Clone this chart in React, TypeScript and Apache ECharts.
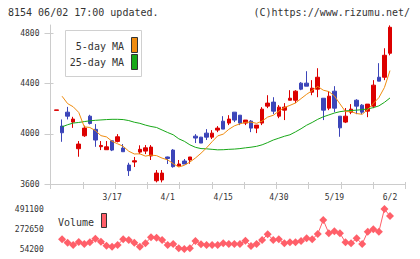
import React, { useEffect, useRef } from "react";
import * as echarts from "echarts";

const dates = [
  "3/3", "3/4", "3/5", "3/6", "3/7", "3/10", "3/11", "3/12", "3/13", "3/14",
  "3/17", "3/18", "3/19", "3/21", "3/24", "3/25", "3/26", "3/27", "3/28", "3/31",
  "4/1", "4/2", "4/3", "4/4", "4/7", "4/8", "4/9", "4/10", "4/11", "4/14",
  "4/15", "4/16", "4/17", "4/18", "4/21", "4/22", "4/23", "4/24", "4/25", "4/28",
  "4/30", "5/1", "5/2", "5/7", "5/8", "5/9", "5/12", "5/13", "5/14", "5/15",
  "5/19", "5/20", "5/21", "5/22", "5/23", "5/26", "5/27", "5/28", "5/29", "5/30",
  "6/2",
];

const opens = [
  4186, 4061, 4172, 4093, 3881, 3984, 4140, 4035, 3897, 3873,
  3944, 3939, 3886, 3751, 3775, 3854, 3862, 3823, 3626, 3632,
  3815, 3870, 3743, 3783, 3791, 3981, 3973, 4005, 3973, 4029,
  4100, 4085, 4172, 4148, 4085, 4101, 4045, 4085, 4220, 4252,
  4140, 4188, 4267, 4267, 4403, 4403, 4331, 4355, 4283, 4204,
  4339, 4140, 4093, 4172, 4267, 4228, 4180, 4220, 4450, 4450,
  4641,
];
const closes = [
  4190, 4008, 4140, 4117, 3918, 4045, 4082, 3950, 3907, 3896,
  3870, 3976, 3857, 3706, 3785, 3876, 3888, 3894, 3687, 3687,
  3803, 3738, 3759, 3759, 3815, 3966, 3926, 3973, 4005, 4045,
  4037, 4117, 4109, 4085, 4109, 4045, 4069, 4196, 4244, 4180,
  4212, 4212, 4283, 4339, 4355, 4379, 4363, 4450, 4188, 4299,
  4204, 4047, 4140, 4196, 4220, 4172, 4236, 4387, 4419, 4625,
  4848,
];
const lows = [
  4186, 3936, 4114, 4047, 3817, 3975, 4074, 3896, 3870, 3873,
  3862, 3931, 3857, 3664, 3735, 3838, 3838, 3791, 3613, 3613,
  3759, 3730, 3740, 3759, 3761, 3926, 3926, 3950, 3958, 4013,
  4037, 4069, 4093, 4069, 4069, 4013, 4005, 4069, 4204, 4156,
  4124, 4109, 4267, 4244, 4347, 4379, 4307, 4291, 4109, 4188,
  4172, 3976, 4085, 4156, 4156, 4156, 4132, 4204, 4419, 4427,
  4625,
];
const highs = [
  4190, 4114, 4214, 4135, 3942, 4065, 4151, 4077, 3942, 3942,
  3950, 3997, 3918, 3769, 3815, 3908, 3910, 3910, 3711, 3711,
  3818, 3878, 3791, 3799, 3815, 3997, 3975, 4037, 4029, 4061,
  4140, 4148, 4172, 4148, 4109, 4109, 4069, 4212, 4307, 4291,
  4228, 4244, 4347, 4347, 4411, 4498, 4427, 4522, 4283, 4339,
  4379, 4140, 4205, 4236, 4275, 4236, 4236, 4427, 4562, 4681,
  4863,
];

const ma5 = [
  null, 4299, 4240, 4215, 4170, 4055, 4050, 4025, 3985, 3975,
  3940, 3920, 3900, 3861, 3839, 3840, 3822, 3830, 3826, 3806,
  3792, 3762, 3735, 3749, 3775, 3807, 3845, 3888, 3937, 3983,
  3997, 4035, 4063, 4079, 4091, 4093, 4083, 4101, 4133, 4147,
  4180, 4209, 4226, 4245, 4280, 4314, 4344, 4377, 4347, 4336,
  4301, 4238, 4176, 4177, 4161, 4155, 4193, 4242, 4287, 4368,
  4503,
];
const ma25 = [
  null, 4055, 4072, 4085, 4090, 4097, 4103, 4107, 4110, 4113,
  4115, 4115, 4113, 4105, 4092, 4083, 4069, 4058, 4050, 4030,
  4010, 3992, 3960, 3940, 3912, 3892, 3882, 3880, 3876, 3872,
  3873, 3876, 3878, 3882, 3888, 3893, 3900, 3912, 3930, 3950,
  3965, 3980, 3992, 4015, 4040, 4068, 4090, 4115, 4135, 4150,
  4165, 4176, 4182, 4185, 4188, 4192, 4198, 4208, 4222, 4250,
  4285,
];
const volumes = [
  null, 160000, 123000, 97900, 130700, 108800, 127400, 166700, 133900, 90200,
  79300, 97900, 160100, 152500, 123000, 79300, 116500, 182000, 177600, 152500,
  97900, 108800, 61800, 54200, 61800, 141600, 105500, 97900, 97900, 97900,
  116500, 108800, 108800, 108800, 144900, 87000, 108800, 152500, 214800, 152500,
  160100, 116500, 127400, 127400, 141600, 171100, 160100, 218000, 370900, 225700,
  247500, 225700, 127400, 116500, 171100, 108800, 243200, 269400, 243200, 491100,
  414600,
];

const priceTicks = [3600, 4000, 4400, 4800];
const volumeTicks = [54200, 272650, 491100];
const labelEvery = 10;

const headerLeft = "8154 06/02 17:00 updated.";
const headerRight = "(C)https://www.rizumu.net/";

const MONO = '"DejaVu Sans Mono", "Liberation Mono", monospace';
const AXIS_C = "#cccccc";
const TEXT_C = "#333333";
const UP = "#dc0000";
const DOWN = "#3c45b9";
const ORANGE = "#f08c10";
const GREEN = "#18a818";
const VOL = "#ff5f69";

const plain = (v: number) => String(v);

export default function App() {
  const ref = useRef<HTMLDivElement>(null);

  useEffect(() => {
    if (!ref.current) return;
    const chart = echarts.init(ref.current, null, { renderer: "svg" });

    const candleData = opens.map((o, i) => [o, closes[i], lows[i], highs[i]]);
    const frame = { top: 25, bottom: 75, left: 50.5, right: 14.7 };
    const plot = { top: 25, bottom: 75, left: 53.72, right: 27.25 };
    const yMin = 3600;
    const yMax = 4866;

    chart.setOption({
      animation: false,
      grid: [
        { ...plot },
        { ...frame },
        { ...frame },
        { top: 209, bottom: 10, left: 53.72, right: 27.25 },
      ],
      xAxis: [
        {
          type: "category",
          gridIndex: 0,
          data: dates,
          boundaryGap: true,
          axisLine: { show: false },
          axisTick: { show: false },
          splitLine: { show: false },
          axisLabel: {
            interval: (i: number) => i > 0 && i % labelEvery === 0,
            margin: 9,
            color: TEXT_C,
            fontFamily: MONO,
            fontSize: 8,
          },
        },
        {
          type: "value",
          gridIndex: 1,
          min: 0,
          max: 11,
          interval: 1,
          axisLine: { show: true, lineStyle: { color: AXIS_C } },
          axisTick: { show: true, length: 5, lineStyle: { color: AXIS_C } },
          axisLabel: { show: false },
          splitLine: { show: false },
        },
        {
          type: "value",
          gridIndex: 2,
          min: 0,
          max: 11,
          interval: 1,
          axisLine: { show: false },
          axisTick: { show: true, inside: true, length: 2, lineStyle: { color: AXIS_C } },
          axisLabel: { show: false },
          splitLine: { show: false },
        },
        {
          type: "category",
          gridIndex: 3,
          data: dates,
          boundaryGap: true,
          show: false,
        },
      ],
      yAxis: [
        {
          type: "value",
          gridIndex: 0,
          min: yMin,
          max: yMax,
          show: false,
          splitLine: { show: false },
        },
        {
          type: "value",
          gridIndex: 1,
          min: yMin,
          max: yMax,
          axisLine: { show: true, lineStyle: { color: AXIS_C } },
          axisTick: {
            show: true,
            length: 6,
            customValues: priceTicks,
            lineStyle: { color: AXIS_C },
          },
          axisLabel: {
            customValues: priceTicks,
            formatter: plain,
            margin: 11,
            color: TEXT_C,
            fontFamily: MONO,
            fontSize: 8,
          },
          splitLine: { show: false },
        },
        {
          type: "value",
          gridIndex: 2,
          min: yMin,
          max: yMax,
          axisLine: { show: false },
          axisTick: {
            show: true,
            inside: true,
            length: 3,
            customValues: priceTicks,
            lineStyle: { color: AXIS_C },
          },
          axisLabel: { show: false },
          splitLine: { show: false },
        },
        {
          type: "value",
          gridIndex: 3,
          min: volumeTicks[0],
          max: volumeTicks[2],
          axisLine: { show: false },
          axisTick: { show: false },
          splitLine: { show: false },
          axisLabel: {
            customValues: volumeTicks,
            formatter: plain,
            margin: 10,
            color: TEXT_C,
            fontFamily: MONO,
            fontSize: 8,
          },
        },
      ],
      series: [
        {
          type: "candlestick",
          xAxisIndex: 0,
          yAxisIndex: 0,
          data: candleData,
          barWidth: 4,
          clip: false,
          itemStyle: {
            color: UP,
            color0: DOWN,
            borderColor: UP,
            borderColor0: DOWN,
            borderWidth: 1,
          },
        },
        {
          type: "line",
          xAxisIndex: 0,
          yAxisIndex: 0,
          data: ma25,
          showSymbol: false,
          symbol: "none",
          lineStyle: { color: GREEN, width: 1 },
          z: 3,
        },
        {
          type: "line",
          xAxisIndex: 0,
          yAxisIndex: 0,
          data: ma5,
          showSymbol: false,
          symbol: "none",
          lineStyle: { color: ORANGE, width: 1 },
          z: 3,
        },
        {
          type: "line",
          xAxisIndex: 3,
          yAxisIndex: 3,
          data: volumes,
          symbol: "diamond",
          symbolSize: 8,
          showSymbol: true,
          showAllSymbol: true,
          clip: false,
          itemStyle: { color: VOL },
          lineStyle: { color: VOL, width: 1 },
        },
      ],
      graphic: [
        {
          type: "text",
          left: 8,
          top: 7,
          style: { text: headerLeft, font: `10px ${MONO}`, fill: TEXT_C },
        },
        {
          type: "text",
          right: 10,
          top: 7,
          style: { text: headerRight, font: `10px ${MONO}`, fill: TEXT_C },
        },
        {
          type: "rect",
          shape: { x: 65.5, y: 30.5, width: 76, height: 46 },
          style: { fill: "#ffffff", stroke: "#d0d0d0", lineWidth: 1 },
          z: 100,
        },
        {
          type: "text",
          x: 124,
          y: 46,
          style: {
            text: "5-day MA",
            font: `10px ${MONO}`,
            fill: TEXT_C,
            align: "right",
            verticalAlign: "middle",
          },
          z: 101,
        },
        {
          type: "text",
          x: 124,
          y: 62,
          style: {
            text: "25-day MA",
            font: `10px ${MONO}`,
            fill: TEXT_C,
            align: "right",
            verticalAlign: "middle",
          },
          z: 101,
        },
        {
          type: "rect",
          shape: { x: 131.5, y: 37.5, width: 6, height: 15 },
          style: { fill: ORANGE, stroke: "#333", lineWidth: 1 },
          z: 101,
        },
        {
          type: "rect",
          shape: { x: 131.5, y: 54.5, width: 6, height: 15 },
          style: { fill: GREEN, stroke: "#333", lineWidth: 1 },
          z: 101,
        },
        {
          type: "text",
          x: 58,
          y: 222,
          style: {
            text: "Volume",
            font: `10px ${MONO}`,
            fill: TEXT_C,
            align: "left",
            verticalAlign: "middle",
          },
          z: 101,
        },
        {
          type: "rect",
          shape: { x: 101.5, y: 213.5, width: 5, height: 14 },
          style: { fill: VOL, stroke: "#333", lineWidth: 1 },
          z: 101,
        },
      ],
    });

    return () => chart.dispose();
  }, []);

  return (
    <div
      ref={ref}
      style={{ position: "absolute", left: 0, top: 0, width: 420, height: 259, background: "#fff" }}
    />
  );
}
